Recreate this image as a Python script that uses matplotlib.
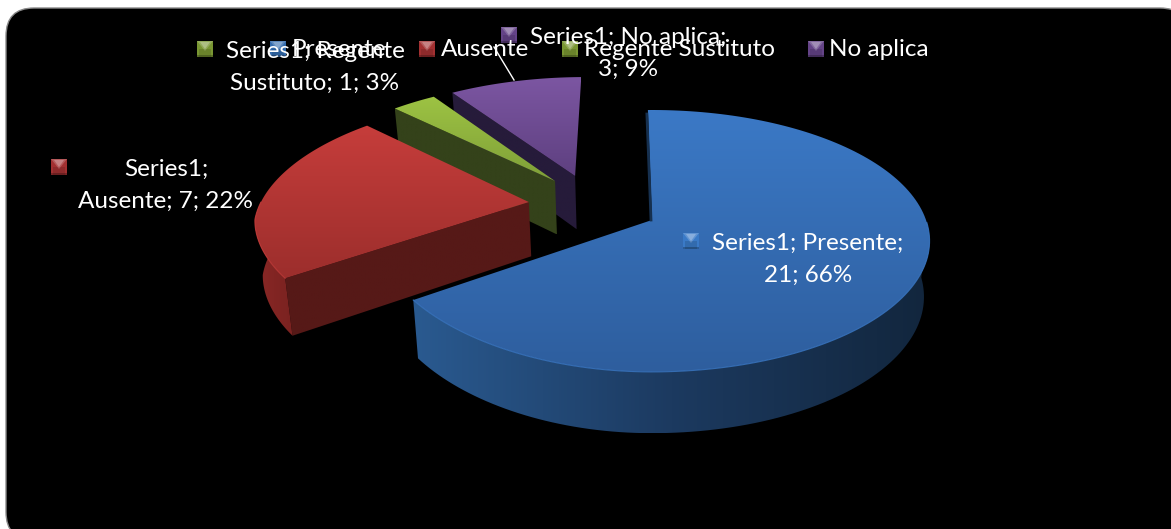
import numpy as np
import matplotlib
matplotlib.use('Agg')
import matplotlib.pyplot as plt
from matplotlib.colors import LinearSegmentedColormap
from matplotlib.patches import Polygon, FancyBboxPatch, Rectangle

# data from the chart
categorias = ['Presente', 'Ausente', 'Regente Sustituto', 'No aplica']
valores = [21, 7, 1, 3]
serie = 'Series1'

# colours per slice: top face (top, bottom), outer wall (left, right), side wall
cara = [('#3B79C6', '#2E5E9E'), ('#C63D3B', '#9C2E2C'), ('#9DC343', '#7F9F38'), ('#7C56A2', '#5E4080')]
pared = [('#2A5A90', '#1C3A60', '#12263D'), ('#8A2826', '#7A2220'), ('#3A4A1C', '#3A4A1C'), ('#2E2247', '#2E2247')]
lateral = ['#16304F', '#561917', '#34421A', '#261B3A']
clave = ['#3C7DCB', '#C0393A', '#8FB23C', '#7650A0']

# slice apex in the plane of the pie (the blue one is the origin)
apex_u = [0.0, -0.46, -0.372, -0.297]
apex_v = [0.0, 0.144, 0.321, 0.365]

# perspective of the pie plane on the picture
cx, cy = 652, 220
a, b, p = 274, 127.6, 0.16
inicio = -1.0

fig = plt.figure(figsize=(11.71, 5.29), dpi=100)
fig.patch.set_facecolor('white')
ax = fig.add_axes([0, 0, 1, 1])
ax.axis('off')
plt.rcParams['font.family'] = ['Lato', 'DejaVu Sans']

fondo = FancyBboxPatch((6, 8), 1182, 532, boxstyle='round,pad=0,rounding_size=28',
                       fc='black', ec='#8a8a8a', lw=1, zorder=0)
ax.add_patch(fondo)

z = [1]


def proyecta(u, v):
    w = 1 / (1 + p * v)
    # front left part is drawn a bit narrower in the original
    wx = 1 / (1 + np.where((u < 0) & (v < 0), 0.1, p) * v)
    return cx + a * u * wx, cy - b * v * w, w


def abajo(x, y, w):
    # same point on the lower side of the pie
    return 650 + (x - 650) * 0.98, y + 22 + 33 * w


def relleno(x, y, colores, horizontal=False):
    z[0] += 1
    pts = np.column_stack([x, y])
    pol = Polygon(pts, closed=True, fc='none', ec='none', zorder=z[0])
    ax.add_patch(pol)
    if horizontal:
        grad = np.linspace(0, 1, 256).reshape(1, -1)
    else:
        grad = np.linspace(0, 1, 256).reshape(-1, 1)
    cmap = LinearSegmentedColormap.from_list('g', colores)
    im = ax.imshow(grad, extent=(x.min(), x.max(), y.max(), y.min()), aspect='auto',
                   cmap=cmap, zorder=z[0], interpolation='bilinear')
    im.set_clip_path(pol)


total = sum(valores)
angulos = inicio + np.cumsum([0] + valores) * 360.0 / total

# back slices first so the front ones cover them
for i in [3, 2, 1, 0]:
    t = np.radians(np.linspace(angulos[i], angulos[i + 1], 160))
    u = apex_u[i] + np.sin(t)
    v = apex_v[i] + np.cos(t)
    x, y, w = proyecta(u, v)
    x2, y2 = abajo(x, y, w)
    ax0, ay0, aw = proyecta(np.array([apex_u[i]]), np.array([apex_v[i]]))
    ax2, ay2 = abajo(ax0, ay0, aw)

    # side wall, only the first edge can be seen (not on the blue one)
    if i > 0:
        px = np.array([ax0[0], x[0], x2[0], ax2[0]])
        py = np.array([ay0[0], y[0], y2[0], ay2[0]])
        relleno(px, py, [lateral[i], lateral[i]])
    # outer wall, only the part that faces the front
    frente = np.cos(t) < 0
    if frente.any():
        relleno(np.r_[x[frente], x2[frente][::-1]], np.r_[y[frente], y2[frente][::-1]], pared[i], horizontal=True)
    # top face
    relleno(np.r_[ax0, x], np.r_[ay0, y], cara[i])
    z[0] += 1
    if frente.any():
        ax.plot(x[frente], y[frente], color=cara[i][0], lw=0.8, alpha=0.8, zorder=z[0])
    if i == 0:
        ax.plot([x[0] - 1, ax0[0] - 1], [y[0] + 4, ay0[0]], color=lateral[0], lw=2, zorder=z[0] - 1)

ZT = 500
ax.plot([494, 514], [47, 80], color='white', lw=1, zorder=ZT)


def cuadro(x, y, color):
    # small bevelled key
    ax.add_patch(Rectangle((x, y), 16, 16, fc=color, ec='none', alpha=0.85, zorder=ZT))
    ax.add_patch(Rectangle((x + 2, y + 8), 12, 8, fc='black', ec='none', alpha=0.12, zorder=ZT))
    ax.add_patch(Rectangle((x, y + 14), 16, 2, fc='black', ec='none', alpha=0.25, zorder=ZT))
    ax.add_patch(Polygon([(x, y), (x + 16, y), (x + 8, y + 10)], fc='white', ec='none', alpha=0.2, zorder=ZT + 1))
    ax.add_patch(Polygon([(x + 3, y + 1), (x + 13, y + 1), (x + 8, y + 8)], fc='white', ec='none', alpha=0.25, zorder=ZT + 1))


def texto(x, y, s):
    ax.text(x, y + 1.5, s, color='white', fontsize=17.5, ha='center', va='center', zorder=ZT + 2)


pct = [round(100.0 * n / total) for n in valores]

# legend on top, overlapped by the labels as in the original
leg_x = [270, 419, 562, 808]
leg_t = [339, 485, 680, 879]
for i in range(4):
    cuadro(leg_x[i], 41, clave[i])
    texto(leg_t[i], 48, categorias[i])

# data labels
cuadro(683, 233, clave[0])
texto(808, 242, f'{serie}; {categorias[0]};')
texto(808, 274, f'{valores[0]}; {pct[0]}%')

cuadro(51, 159, clave[1])
texto(166, 168, f'{serie};')
texto(166, 200, f'{categorias[1]}; {valores[1]}; {pct[1]}%')

rs = categorias[2].split()
cuadro(197, 41, clave[2])
texto(315, 50, f'{serie}; {rs[0]}')
texto(315, 82, f'{rs[1]}; {valores[2]}; {pct[2]}%')

cuadro(501, 27, clave[3])
texto(628, 36, f'{serie}; {categorias[3]};')
texto(628, 68, f'{valores[3]}; {pct[3]}%')

ax.set_xlim(0, 1171)
ax.set_ylim(529, 0)
fig.savefig('out.png', dpi=100, facecolor='white')
